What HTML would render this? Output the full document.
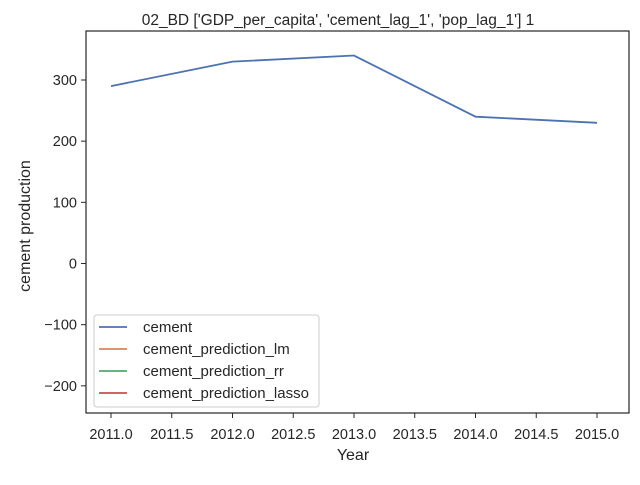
<!DOCTYPE html>
<html><head><meta charset="utf-8"><style>
body{margin:0;background:#fff;font-family:"Liberation Sans",sans-serif;}
svg text{font-family:"Liberation Sans",sans-serif;fill:#262626;}
</style></head><body>
<svg id="chart" width="640" height="480">
<rect width="640" height="480" fill="#fff"/>
<text x="338" y="25" font-size="15.5" text-anchor="middle">02_BD ['GDP_per_capita', 'cement_lag_1', 'pop_lag_1'] 1</text>
<g id="xt"></g><g id="yt"></g><g id="lines"></g>
<rect x="86" y="31" width="543" height="382" fill="none" stroke="#262626" stroke-width="1.2"/>
<text x="353" y="460" font-size="16" text-anchor="middle">Year</text>
<text transform="translate(30,226) rotate(-90)" font-size="16" text-anchor="middle">cement production</text>
<g id="legend">
<rect x="94" y="315" width="225" height="92" rx="3" fill="#fff" fill-opacity="0.8" stroke="#ccc"/>
</g>
</svg>
<script>
const years=[2011,2012,2013,2014,2015];
const cement=[290,330,340,240,230];
const xTicks=[2011,2011.5,2012,2012.5,2013,2013.5,2014,2014.5,2015];
const yTicks=[-200,-100,0,100,200,300];
const seriesNames=["cement","cement_prediction_lm","cement_prediction_rr","cement_prediction_lasso"];
const seriesColors=["#4c72b0","#dd8452","#55a868","#c44e52"];
const NS="http://www.w3.org/2000/svg";
function X(v){return 111+(v-2011)*121.5;}
function Y(v){return 263.5-v*0.6117;}
function mk(t,a,p){const e=document.createElementNS(NS,t);for(const k in a)e.setAttribute(k,a[k]);p.appendChild(e);return e;}
const xt=document.getElementById('xt'),yt=document.getElementById('yt');
xTicks.forEach(v=>{
 const l=mk('line',{x1:X(v),x2:X(v),y1:413,y2:418,stroke:'#262626'},xt);
 
 
 const t=mk('text',{x:X(v),y:439,'font-size':14.5,'text-anchor':'middle'},xt);t.textContent=v.toFixed(1);
 
 
});
yTicks.forEach(v=>{
 const l=mk('line',{x1:81,x2:86,y1:Y(v),y2:Y(v),stroke:'#262626'},yt);
 
 
 const t=mk('text',{x:77,y:Y(v)+5,'font-size':14.5,'text-anchor':'end'},yt);t.textContent=(v<0?'\u2212'+(-v):v);
 
 
});
const pl=mk('polyline',{points:years.map((y,i)=>X(y)+','+Y(cement[i])).join(' '),fill:'none',stroke:seriesColors[0],'stroke-width':1.8},document.getElementById('lines'));


const lg=document.getElementById('legend');
seriesNames.forEach((n,i)=>{
 const y=327+i*22;
 const l=mk('line',{x1:99,x2:127,y1:y,y2:y,stroke:seriesColors[i],'stroke-width':1.8},lg);
 
 
 const t=mk('text',{x:143,y:y+5,'font-size':15,},lg);t.textContent=n;
 
 
});
</script>
</body></html>
